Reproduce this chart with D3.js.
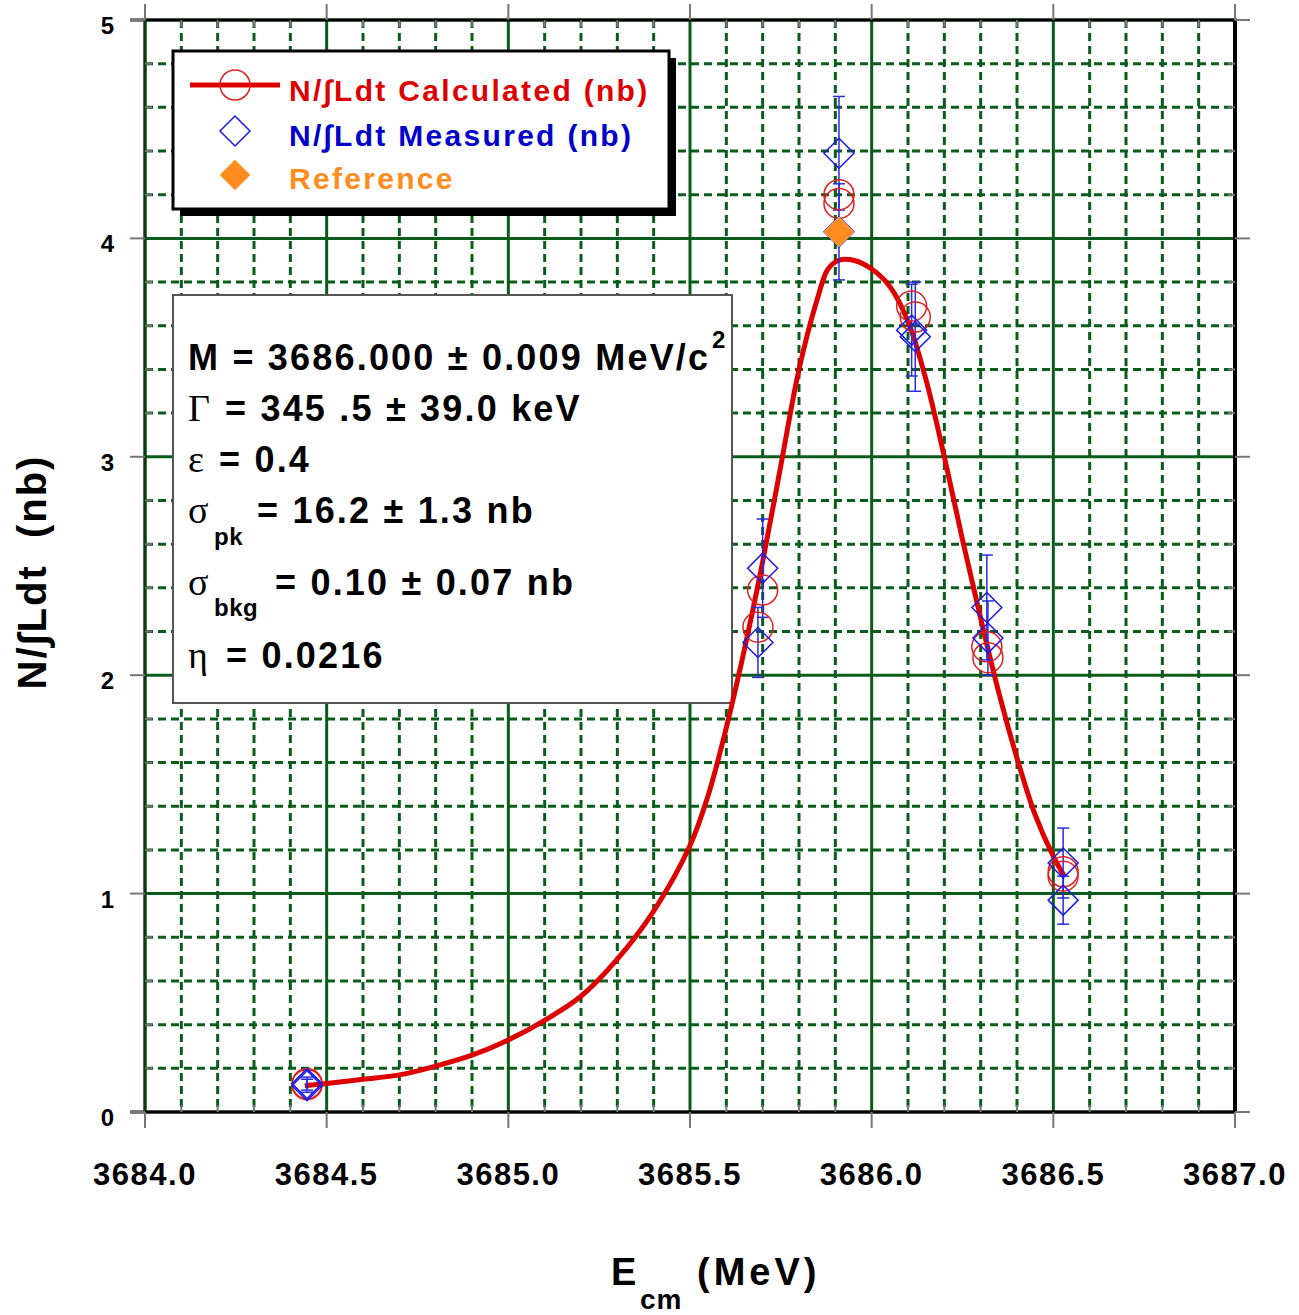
<!DOCTYPE html>
<html>
<head>
<meta charset="utf-8">
<script src="https://cdn.jsdelivr.net/npm/d3@7"></script>
<style>
  body { margin: 0; background: #fff; }
  text { font-family: "Liberation Sans", Arial, sans-serif; font-weight: bold; white-space: pre; }
  .greek { font-family: "Liberation Serif", "Times New Roman", serif; font-weight: normal; }
</style>
</head>
<body>
<div id="chart"></div>
<script>
// fitted line shape (MeV, nb)
const curveE = [3684.44, 3684.5, 3684.6, 3684.7, 3684.8, 3684.9, 3685.0, 3685.1, 3685.2, 3685.3, 3685.4,
  3685.5, 3685.55, 3685.6, 3685.65, 3685.7, 3685.75, 3685.8, 3685.85, 3685.88, 3685.91, 3685.95,
  3686.0, 3686.05, 3686.1, 3686.15, 3686.2, 3686.25, 3686.3, 3686.35, 3686.4, 3686.45, 3686.5, 3686.53];
const curveN = [0.12, 0.13, 0.15, 0.17, 0.21, 0.26, 0.33, 0.42, 0.53, 0.70, 0.92,
  1.22, 1.45, 1.76, 2.12, 2.52, 2.96, 3.40, 3.72, 3.86, 3.90, 3.90,
  3.86, 3.78, 3.62, 3.35, 3.00, 2.62, 2.26, 1.92, 1.62, 1.36, 1.17, 1.08];

// measured points with errors
const measE = [3684.446, 3684.446, 3685.70, 3685.687, 3685.91, 3685.91, 3686.11, 3686.12, 3686.317, 3686.32, 3686.527, 3686.527];
const measN = [0.13, 0.12, 2.49, 2.15, 4.39, 4.03, 3.58, 3.55, 2.31, 2.17, 1.14, 0.97];
const measErr = [0.03, 0.03, 0.225, 0.16, 0.26, 0.22, 0.21, 0.25, 0.24, 0.17, 0.16, 0.11];

// calculated points
const calcE = [3684.446, 3684.446, 3685.70, 3685.687, 3685.91, 3685.91, 3686.11, 3686.12, 3686.317, 3686.32, 3686.527, 3686.527];
const calcN = [0.13, 0.125, 2.39, 2.22, 4.20, 4.16, 3.69, 3.64, 2.13, 2.08, 1.10, 1.08];

// reference
const refE = [3685.91];
const refN = [4.03];

const xTicks = [3684.0, 3684.5, 3685.0, 3685.5, 3686.0, 3686.5, 3687.0];
const yTicks = [0, 1, 2, 3, 4, 5];

const W = 1299, H = 1315;
const green = "#0a5c1a";
const red = "#dd0000", blue = "#0000cc", orange = "#ff8c1e";

const svg = d3.select("#chart").append("svg").attr("width", W).attr("height", H);

const x = d3.scaleLinear().domain([3684, 3687]).range([145, 1235]);
const y = d3.scaleLinear().domain([0, 5]).range([1112, 20]);

const minorX = d3.range(0, 31).map(i => 3684 + i * 0.1).filter((v, i) => i % 5 !== 0);
const minorY = d3.range(0, 26).map(i => i * 0.2).filter((v, i) => i % 5 !== 0);

// minor grid (dashed)
const grid = svg.append("g");
grid.selectAll(".mx").data(minorX).join("line")
  .attr("x1", d => x(d)).attr("x2", d => x(d)).attr("y1", y(5)).attr("y2", y(0))
  .attr("stroke", green).attr("stroke-width", 3).attr("stroke-dasharray", "8,5");
grid.selectAll(".my").data(minorY).join("line")
  .attr("x1", x(3684)).attr("x2", x(3687)).attr("y1", d => y(d)).attr("y2", d => y(d))
  .attr("stroke", green).attr("stroke-width", 3).attr("stroke-dasharray", "8,5");

// major grid
grid.selectAll(".Mx").data(xTicks).join("line")
  .attr("x1", d => x(d)).attr("x2", d => x(d)).attr("y1", y(5)).attr("y2", y(0))
  .attr("stroke", green).attr("stroke-width", 3);
grid.selectAll(".My").data(yTicks).join("line")
  .attr("x1", x(3684)).attr("x2", x(3687)).attr("y1", d => y(d)).attr("y2", d => y(d))
  .attr("stroke", green).attr("stroke-width", 3);

// frame
svg.append("line").attr("x1", x(3684) - 15).attr("x2", x(3687) + 2).attr("y1", y(5)).attr("y2", y(5))
  .attr("stroke", "#000").attr("stroke-width", 3);
svg.append("line").attr("x1", x(3687)).attr("x2", x(3687)).attr("y1", y(5)).attr("y2", y(0))
  .attr("stroke", "#000").attr("stroke-width", 4);
svg.append("line").attr("x1", x(3684) - 15).attr("x2", x(3687)).attr("y1", y(0)).attr("y2", y(0))
  .attr("stroke", "#000").attr("stroke-width", 3);
svg.append("line").attr("x1", x(3684)).attr("x2", x(3684)).attr("y1", y(5)).attr("y2", y(0))
  .attr("stroke", "#0a3a10").attr("stroke-width", 3);

// ticks
const ticks = svg.append("g").attr("stroke", "#777").attr("stroke-width", 2);
xTicks.forEach(t => {
  ticks.append("line").attr("x1", x(t)).attr("x2", x(t)).attr("y1", y(0)).attr("y2", y(0) + 16);
  ticks.append("line").attr("x1", x(t)).attr("x2", x(t)).attr("y1", y(5)).attr("y2", y(5) - 16);
});
yTicks.forEach(t => {
  ticks.append("line").attr("x1", x(3684)).attr("x2", x(3684) - 15).attr("y1", y(t)).attr("y2", y(t));
  ticks.append("line").attr("x1", x(3687)).attr("x2", x(3687) + 15).attr("y1", y(t)).attr("y2", y(t));
});
minorX.forEach(t => {
  ticks.append("line").attr("x1", x(t)).attr("x2", x(t)).attr("y1", y(0)).attr("y2", y(0) - 7);
  ticks.append("line").attr("x1", x(t)).attr("x2", x(t)).attr("y1", y(5)).attr("y2", y(5) + 7);
});
minorY.forEach(t => {
  ticks.append("line").attr("x1", x(3684)).attr("x2", x(3684) + 7).attr("y1", y(t)).attr("y2", y(t));
  ticks.append("line").attr("x1", x(3687)).attr("x2", x(3687) - 7).attr("y1", y(t)).attr("y2", y(t));
});

// tick labels
svg.selectAll(".xl").data(xTicks).join("text")
  .attr("x", d => x(d)).attr("y", y(0) + 73).attr("text-anchor", "middle")
  .attr("font-size", 31).attr("letter-spacing", 1.5).text(d => d.toFixed(1));
svg.selectAll(".yl").data(yTicks).join("text")
  .attr("x", 114).attr("y", d => y(d) + 14).attr("text-anchor", "end")
  .attr("font-size", 24).text(d => d);

// axis titles
svg.append("text").attr("transform", "translate(46,572) rotate(-90)").attr("text-anchor", "middle")
  .attr("font-size", 40).attr("letter-spacing", 2).text("N/\u222BLdt  (nb)");
svg.append("text").attr("x", 611).attr("y", 1285).attr("font-size", 38).text("E");
svg.append("text").attr("x", 640).attr("y", 1309).attr("font-size", 28).attr("letter-spacing", 1).text("cm");
svg.append("text").attr("x", 697).attr("y", 1285).attr("font-size", 38).attr("letter-spacing", 4).text("(MeV)");

// parameter box
svg.append("rect").attr("x", 173).attr("y", 295).attr("width", 559).attr("height", 408)
  .attr("fill", "#fff").attr("stroke", "#555").attr("stroke-width", 2);
const pb = svg.append("g").attr("font-size", 36).attr("letter-spacing", 2.2);
pb.append("text").attr("x", 188).attr("y", 370).text("M = 3686.000 \u00B1 0.009 MeV/c");
pb.append("text").attr("x", 712).attr("y", 348).attr("font-size", 24).attr("letter-spacing", 0).text("2");
pb.append("text").attr("class", "greek").attr("x", 188).attr("y", 421).attr("font-size", 38).text("\u0393");
pb.append("text").attr("x", 225).attr("y", 421).text("= 345 .5 \u00B1 39.0 keV");
pb.append("text").attr("class", "greek").attr("x", 188).attr("y", 472).attr("font-size", 38).text("\u03B5");
pb.append("text").attr("x", 219).attr("y", 472).text("= 0.4");
pb.append("text").attr("class", "greek").attr("x", 188).attr("y", 523).attr("font-size", 38).text("\u03C3");
pb.append("text").attr("x", 214).attr("y", 545).attr("font-size", 24).attr("letter-spacing", 0.5).text("pk");
pb.append("text").attr("x", 257).attr("y", 523).text("= 16.2 \u00B1 1.3 nb");
pb.append("text").attr("class", "greek").attr("x", 188).attr("y", 595).attr("font-size", 38).text("\u03C3");
pb.append("text").attr("x", 214).attr("y", 616).attr("font-size", 24).attr("letter-spacing", 0.5).text("bkg");
pb.append("text").attr("x", 275).attr("y", 595).text("= 0.10 \u00B1 0.07 nb");
pb.append("text").attr("class", "greek").attr("x", 188).attr("y", 668).attr("font-size", 38).text("\u03B7");
pb.append("text").attr("x", 226).attr("y", 668).text("= 0.0216");

// fitted curve
const line = d3.line().x((d, i) => x(curveE[i])).y(d => y(d)).curve(d3.curveCatmullRom);
svg.append("path").attr("d", line(curveN)).attr("fill", "none")
  .attr("stroke", red).attr("stroke-width", 5);

const meas = measE.map((e, i) => ({ e, n: measN[i], err: measErr[i] }));
const calc = calcE.map((e, i) => ({ e, n: calcN[i] }));
const ref = refE.map((e, i) => ({ e, n: refN[i] }));

const diamond = (cx, cy, r) => `M${cx},${cy - r}L${cx + r},${cy}L${cx},${cy + r}L${cx - r},${cy}Z`;

// error bars
const eb = svg.append("g").attr("stroke", "#2a2ae0").attr("stroke-width", 1.5);
meas.forEach(d => {
  const cx = x(d.e);
  eb.append("line").attr("x1", cx).attr("x2", cx).attr("y1", y(d.n + d.err)).attr("y2", y(d.n - d.err));
  eb.append("line").attr("x1", cx - 6).attr("x2", cx + 6).attr("y1", y(d.n + d.err)).attr("y2", y(d.n + d.err));
  eb.append("line").attr("x1", cx - 6).attr("x2", cx + 6).attr("y1", y(d.n - d.err)).attr("y2", y(d.n - d.err));
});

svg.append("g").selectAll("circle").data(calc).join("circle")
  .attr("cx", d => x(d.e)).attr("cy", d => y(d.n)).attr("r", 15)
  .attr("fill", "none").attr("stroke", "#e02020").attr("stroke-width", 1.5);

svg.append("g").selectAll("path").data(meas).join("path")
  .attr("d", d => diamond(x(d.e), y(d.n), 15))
  .attr("fill", "none").attr("stroke", "#1a1ae6").attr("stroke-width", 1.5);

svg.append("g").selectAll("path").data(ref).join("path")
  .attr("d", d => diamond(x(d.e), y(d.n), 15))
  .attr("fill", orange).attr("stroke", "#ffa850").attr("stroke-width", 1);

// legend
const lg = svg.append("g");
lg.append("rect").attr("x", 180).attr("y", 58).attr("width", 496).attr("height", 158).attr("fill", "#000");
lg.append("rect").attr("x", 173).attr("y", 51).attr("width", 496).attr("height", 158)
  .attr("fill", "#fff").attr("stroke", "#000").attr("stroke-width", 3);
lg.append("line").attr("x1", 190).attr("x2", 280).attr("y1", 85).attr("y2", 85)
  .attr("stroke", red).attr("stroke-width", 5);
lg.append("circle").attr("cx", 235).attr("cy", 85).attr("r", 15)
  .attr("fill", "none").attr("stroke", "#e02020").attr("stroke-width", 1.5);
lg.append("path").attr("d", diamond(235, 131, 15)).attr("fill", "none").attr("stroke", "#1a1ae6").attr("stroke-width", 1.5);
lg.append("path").attr("d", diamond(235, 175, 15)).attr("fill", orange).attr("stroke", "#ffa850");
const legendItems = [["N/\u222BLdt Calculated (nb)", red, 101], ["N/\u222BLdt Measured (nb)", blue, 146], ["Reference", orange, 189]];
legendItems.forEach(([t, c, yy]) => {
  lg.append("text").attr("x", 289).attr("y", yy).attr("font-size", 30).attr("letter-spacing", 2.3)
    .attr("fill", c).text(t);
});
</script>
</body>
</html>
